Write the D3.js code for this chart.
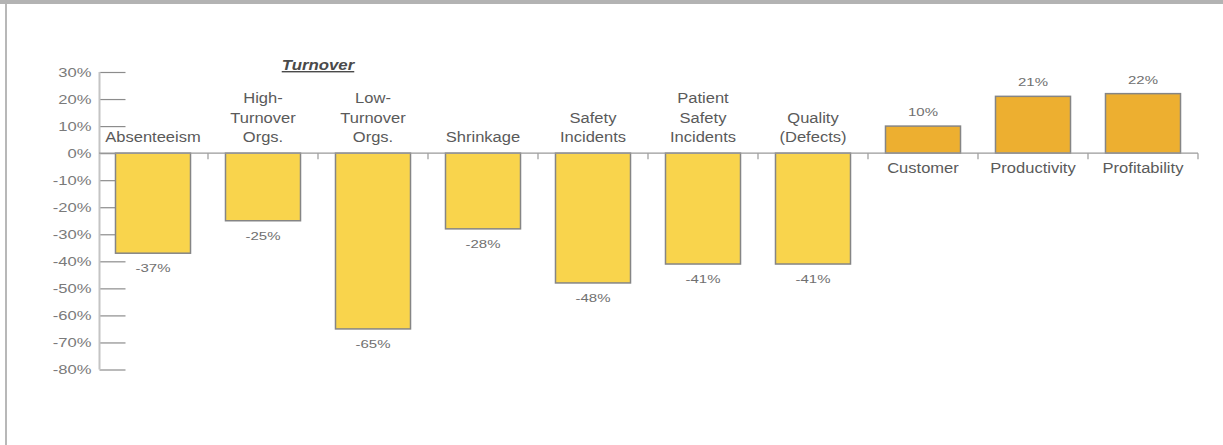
<!DOCTYPE html>
<html><head><meta charset="utf-8">
<script src="https://cdn.jsdelivr.net/npm/d3@7"></script>
<style>
html,body{margin:0;padding:0;background:#fff;}
svg{display:block;}
text{font-family:"Liberation Sans",Arial,Helvetica,sans-serif;}
</style></head>
<body>
<svg id="chart" width="1223" height="445"></svg>
<script>
const categories = ["Absenteeism","High-Turnover Orgs.","Low-Turnover Orgs.","Shrinkage","Safety Incidents","Patient Safety Incidents","Quality (Defects)","Customer","Productivity","Profitability"];
const categoryLines = [["Absenteeism"],["High-","Turnover","Orgs."],["Low-","Turnover","Orgs."],["Shrinkage"],["Safety","Incidents"],["Patient","Safety","Incidents"],["Quality","(Defects)"],["Customer"],["Productivity"],["Profitability"]];
const values = [-37,-25,-65,-28,-48,-41,-41,10,21,22];
const tickValues = [30,20,10,0,-10,-20,-30,-40,-50,-60,-70,-80];
const groupTitle = "Turnover";
const groupMembers = ["High-Turnover Orgs.","Low-Turnover Orgs."];

const svg = d3.select("#chart");
const x = d3.scaleBand().domain(categories).range([98,1198]).paddingInner(0.318).paddingOuter(0.159);
const y = d3.scaleLinear().domain([-80,30]).range([369.5,72]);

function stretch(sel, k){
  sel.each(function(){
    const w = this.getComputedTextLength();
    if (w>0){ d3.select(this).attr("textLength", w*k).attr("lengthAdjust","spacingAndGlyphs"); }
  });
}

// frame
svg.append("rect").attr("x",0).attr("y",0).attr("width",1223).attr("height",4).attr("fill","#b3b3b3");
svg.append("rect").attr("x",5).attr("y",4).attr("width",2).attr("height",441).attr("fill","#b8b8b8");

// y axis
const axisG = svg.append("g").attr("transform","translate(99.5,0)");
const yAxis = d3.axisRight(y).tickValues(tickValues).tickSize(26).tickFormat(d=>d+"%");
axisG.call(yAxis);
axisG.select(".domain").remove();
axisG.selectAll(".tick line").attr("stroke","#8c8c8c").attr("stroke-width",1.2);
axisG.selectAll(".tick text").attr("x",-8).attr("text-anchor","end").attr("fill","#7a7a7a")
  .attr("font-size",12).attr("dy","0.35em");
stretch(axisG.selectAll(".tick text"),1.38);
svg.append("line").attr("x1",99.5).attr("x2",99.5).attr("y1",y(30)).attr("y2",y(-80))
  .attr("stroke","#c4c4c4").attr("stroke-width",2);

// bars
svg.append("g").selectAll("rect").data(values).join("rect")
  .attr("x",(d,i)=>x(categories[i]))
  .attr("width",x.bandwidth())
  .attr("y",d=>d<0?y(0):y(d))
  .attr("height",d=>Math.abs(y(d)-y(0)))
  .attr("fill",d=>d<0?"#F9D44C":"#EDAF30")
  .attr("stroke","#858585").attr("stroke-width",1.5);

// baseline
svg.append("line").attr("x1",99).attr("x2",1198).attr("y1",y(0)).attr("y2",y(0))
  .attr("stroke","#9a9a9a").attr("stroke-width",1.2);
// band separators on baseline
const step = x.step();
const seps = categories.map((c,i)=>x(c)-x.paddingOuter()*step+ (i+1)*0 );
svg.append("g").selectAll("line").data(categories.slice(1).concat(["end"])).join("line")
  .attr("x1",(d,i)=>x.range()[0]+(i+1)*step).attr("x2",(d,i)=>x.range()[0]+(i+1)*step)
  .attr("y1",y(0)).attr("y2",y(0)+6).attr("stroke","#9a9a9a").attr("stroke-width",1.2);

// value labels
const vl = svg.append("g").selectAll("text").data(values).join("text")
  .attr("x",(d,i)=>x(categories[i])+x.bandwidth()/2)
  .attr("y",d=>d<0?y(d)+19:y(d)-10)
  .attr("text-anchor","middle").attr("font-size",11).attr("fill","#707070")
  .text(d=>d+"%");
stretch(vl,1.36);

// category labels
const lh = 19.5;
categoryLines.forEach((lines,i)=>{
  const cx = x(categories[i])+x.bandwidth()/2;
  const neg = values[i]<0;
  lines.forEach((ln,j)=>{
    const yy = neg ? y(0)-11-(lines.length-1-j)*lh : y(0)+20+j*lh;
    const t = svg.append("text").attr("x",cx).attr("y",yy).attr("text-anchor","middle")
      .attr("font-size",14).attr("fill","#5a5a5a").text(ln);
    stretch(t,1.18);
  });
});

// group title
const gx = (x(groupMembers[0])+x(groupMembers[1])+x.bandwidth())/2;
const tt = svg.append("text").attr("x",gx).attr("y",70).attr("text-anchor","middle")
  .attr("font-size",14).attr("font-weight","bold").attr("font-style","italic")
  .attr("fill","#4a4a4a").attr("text-decoration","underline").text(groupTitle);
stretch(tt,1.2);
</script>
</body></html>
